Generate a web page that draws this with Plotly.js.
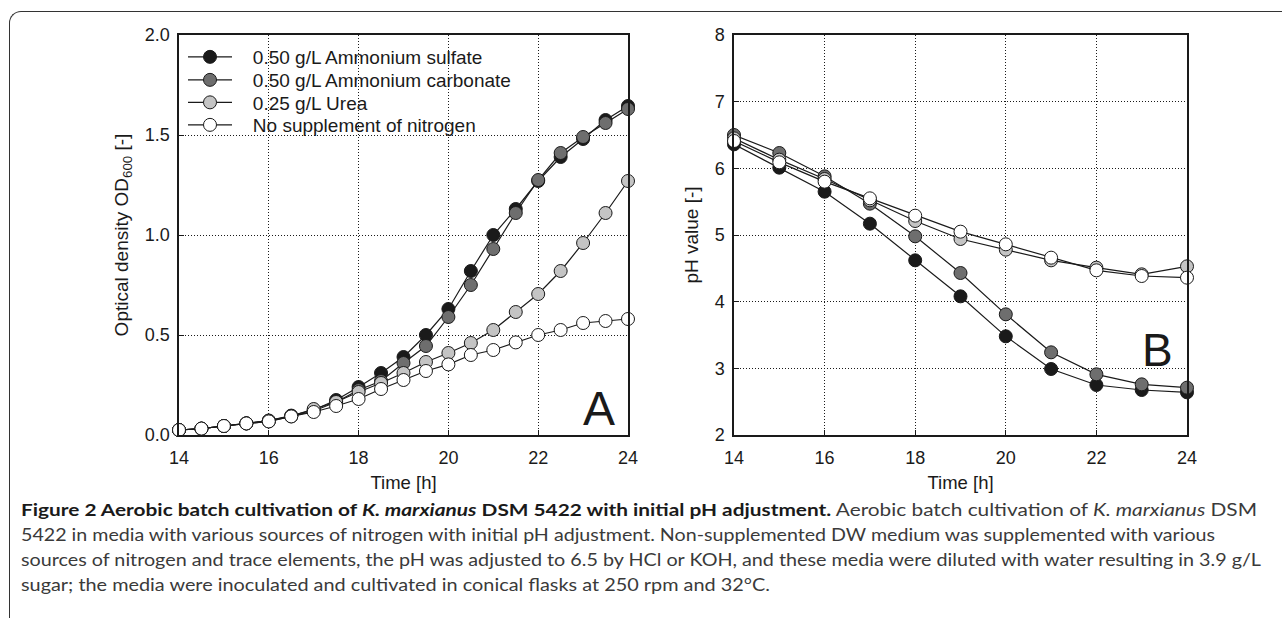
<!DOCTYPE html>
<html>
<head>
<meta charset="utf-8">
<script src="https://cdn.plot.ly/plotly-3.0.1.min.js"></script>
<style>
  html, body { margin:0; padding:0; background:#fff; }
  #wrap { position:relative; width:1282px; height:618px; overflow:hidden; }
  #chart { position:absolute; left:0; top:0; width:1282px; height:618px; }
  #frame { position:absolute; left:9px; top:11px; width:1300px; height:700px;
           border-left:1.4px solid #333; border-top:1.4px solid #333; border-top-left-radius:12px; }
  .cap { position:absolute; left:21px; white-space:nowrap; font-family:Lato, "Open Sans", sans-serif;
         font-size:17px; line-height:20px; color:#3a3a3a; transform-origin:0 50%; }
  .cap b { color:#1a1a1a; }
</style>
</head>
<body>
<div id="wrap">
  <div id="frame"></div>
  <div id="chart"></div>
  <div class="cap" data-right="1257" style="top:500px"><b>Figure 2 Aerobic batch cultivation of <i>K. marxianus</i> DSM 5422 with initial pH adjustment.</b> Aerobic batch cultivation of <i>K. marxianus</i> DSM</div>
  <div class="cap" data-right="1215" style="top:525px">5422 in media with various sources of nitrogen with initial pH adjustment. Non-supplemented DW medium was supplemented with various</div>
  <div class="cap" data-right="1261" style="top:550px">sources of nitrogen and trace elements, the pH was adjusted to 6.5 by HCl or KOH, and these media were diluted with water resulting in 3.9 g/L</div>
  <div class="cap" data-right="770" style="top:575px">sugar; the media were inoculated and cultivated in conical flasks at 250 rpm and 32°C.</div>
</div>
<script>
// ---------- data ----------
const seriesNames = ["0.50 g/L Ammonium sulfate", "0.50 g/L Ammonium carbonate", "0.25 g/L Urea", "No supplement of nitrogen"];
const seriesColors = ["#1a1a1a", "#6e6e6e", "#c4c4c4", "#ffffff"];

const timeOD = [14,14.5,15,15.5,16,16.5,17,17.5,18,18.5,19,19.5,20,20.5,21,21.5,22,22.5,23,23.5,24];
const odSulfate   = [0.025,0.032,0.045,0.058,0.072,0.097,0.125,0.175,0.24,0.31,0.39,0.50,0.63,0.82,1.00,1.13,1.27,1.39,1.48,1.575,1.645];
const odCarbonate = [0.025,0.032,0.045,0.058,0.068,0.093,0.12,0.165,0.225,0.27,0.36,0.445,0.59,0.75,0.93,1.11,1.275,1.41,1.49,1.56,1.63];
const odUrea      = [0.025,0.032,0.045,0.058,0.072,0.095,0.13,0.165,0.215,0.26,0.31,0.365,0.41,0.46,0.525,0.615,0.705,0.82,0.96,1.11,1.27];
const odNone      = [0.025,0.032,0.045,0.058,0.068,0.093,0.115,0.145,0.18,0.23,0.275,0.32,0.353,0.40,0.425,0.463,0.50,0.525,0.56,0.57,0.58];

const timePH = [14,15,16,17,18,19,20,21,22,23,24];
const phSulfate   = [6.36,6.01,5.65,5.17,4.62,4.08,3.48,2.99,2.75,2.675,2.64];
const phCarbonate = [6.50,6.23,5.88,5.47,4.98,4.43,3.81,3.24,2.91,2.76,2.71];
const phUrea      = [6.45,6.13,5.84,5.52,5.21,4.94,4.78,4.62,4.51,4.41,4.53];
const phNone      = [6.41,6.09,5.80,5.55,5.29,5.05,4.86,4.66,4.47,4.385,4.36];

const xTicks = [14,16,18,20,22,24];

// ---------- figure ----------
const W = 1282, H = 618;
const FONT = "Liberation Sans, Arial, Helvetica, sans-serif";
const INK = "#1a1a1a";
const odSeries = [odSulfate, odCarbonate, odUrea, odNone];
const phSeries = [phSulfate, phCarbonate, phUrea, phNone];
const legendIds = ["legend", "legend2", "legend3", "legend4"];
const legendRowsPx = [57, 80, 102.5, 125];

const traces = [];
odSeries.forEach((ys, i) => traces.push({
  type:"scatter", mode:"lines+markers", x:timeOD, y:ys,
  name:"\u00a0\u00a0\u00a0" + seriesNames[i], legend:legendIds[i],
  xaxis:"x", yaxis:"y", cliponaxis:false, showlegend:true,
  line:{color:INK, width:1.2},
  marker:{size:13, color:seriesColors[i], line:{color:INK, width:1}}
}));
phSeries.forEach((ys, i) => traces.push({
  type:"scatter", mode:"lines+markers", x:timePH, y:ys, name:seriesNames[i],
  xaxis:"x2", yaxis:"y2", cliponaxis:false, showlegend:false,
  line:{color:INK, width:1.2},
  marker:{size:13, color:seriesColors[i], line:{color:INK, width:1}}
}));

const yDom = [1 - 435/H, 1 - 35/H];
function xAxis(dom, anchor){
  return {domain:dom, anchor:anchor, range:[14,24], tickvals:xTicks, ticks:"inside", ticklen:5,
    tickcolor:INK, showline:true, linecolor:INK, linewidth:1.6, mirror:true,
    showgrid:true, gridcolor:INK, griddash:"1px,2px", gridwidth:1, zeroline:false,
    ticklabelstandoff:6,
    tickfont:{family:FONT, size:18, color:INK},
    title:{text:"Time [h]", font:{family:FONT, size:18.5, color:INK}, standoff:9}};
}
function yAxis(range, dtick, fmt, title, anchor){
  return {domain:yDom, anchor:anchor, range:range, dtick:dtick, tick0:range[0], tickformat:fmt,
    ticks:"inside", ticklen:5, tickcolor:INK, showline:true, linecolor:INK, linewidth:1.6, mirror:true,
    showgrid:true, gridcolor:INK, griddash:"1px,2px", gridwidth:1, zeroline:false,
    ticklabelstandoff:4,
    tickfont:{family:FONT, size:18, color:INK},
    title:{text:title, font:{family:FONT, size:19, color:INK}, standoff:11}};
}

function legendAt(rowPx){
  return {x:183/W, y:1 - rowPx/H, xanchor:"left", yanchor:"middle", bgcolor:"rgba(0,0,0,0)",
    borderwidth:0, font:{family:FONT, size:19, color:INK}, itemwidth:44, tracegroupgap:0};
}

const layout = {
  width:W, height:H, margin:{l:0, r:0, t:0, b:0},
  paper_bgcolor:"rgba(0,0,0,0)", plot_bgcolor:"rgba(0,0,0,0)",
  showlegend:true,
  xaxis: xAxis([179/W, 628/W], "y"),
  yaxis: yAxis([0,2], 0.5, ".1f", "Optical density OD<sub>600</sub> [-]", "x"),
  xaxis2: xAxis([734/W, 1187/W], "y2"),
  yaxis2: yAxis([2,8], 1, "d", "pH value [-]", "x2"),
  legend: legendAt(legendRowsPx[0]),
  legend2: legendAt(legendRowsPx[1]),
  legend3: legendAt(legendRowsPx[2]),
  legend4: legendAt(legendRowsPx[3]),
  shapes:[
    // white legend backdrop hiding the grid behind the legend
    {type:"rect", xref:"paper", yref:"paper", x0:180.5/W, x1:525/W, y0:1 - 143/H, y1:1 - 36.5/H,
     fillcolor:"#ffffff", line:{width:0}, layer:"between"}
  ],
  annotations:[
    {xref:"paper", yref:"paper", x:599/W, y:1 - 408/H, text:"A", showarrow:false,
     xanchor:"center", yanchor:"middle", font:{family:FONT, size:48, color:INK}},
    {xref:"paper", yref:"paper", x:1157/W, y:1 - 350/H, text:"B", showarrow:false,
     xanchor:"center", yanchor:"middle", font:{family:FONT, size:46, color:INK}}
  ]
};

Plotly.newPlot("chart", traces, layout, {staticPlot:true, displayModeBar:false});

// fit caption lines to their measured extents in the reference
function fitCaption(){
  document.querySelectorAll(".cap").forEach(el => {
    el.style.transform = "none";
    const w = el.getBoundingClientRect().width;
    const target = parseFloat(el.dataset.right) - 21;
    el.style.transform = "scaleX(" + (target / w) + ")";
  });
}
fitCaption();
if (document.fonts && document.fonts.ready) document.fonts.ready.then(fitCaption);
</script>
</body>
</html>
